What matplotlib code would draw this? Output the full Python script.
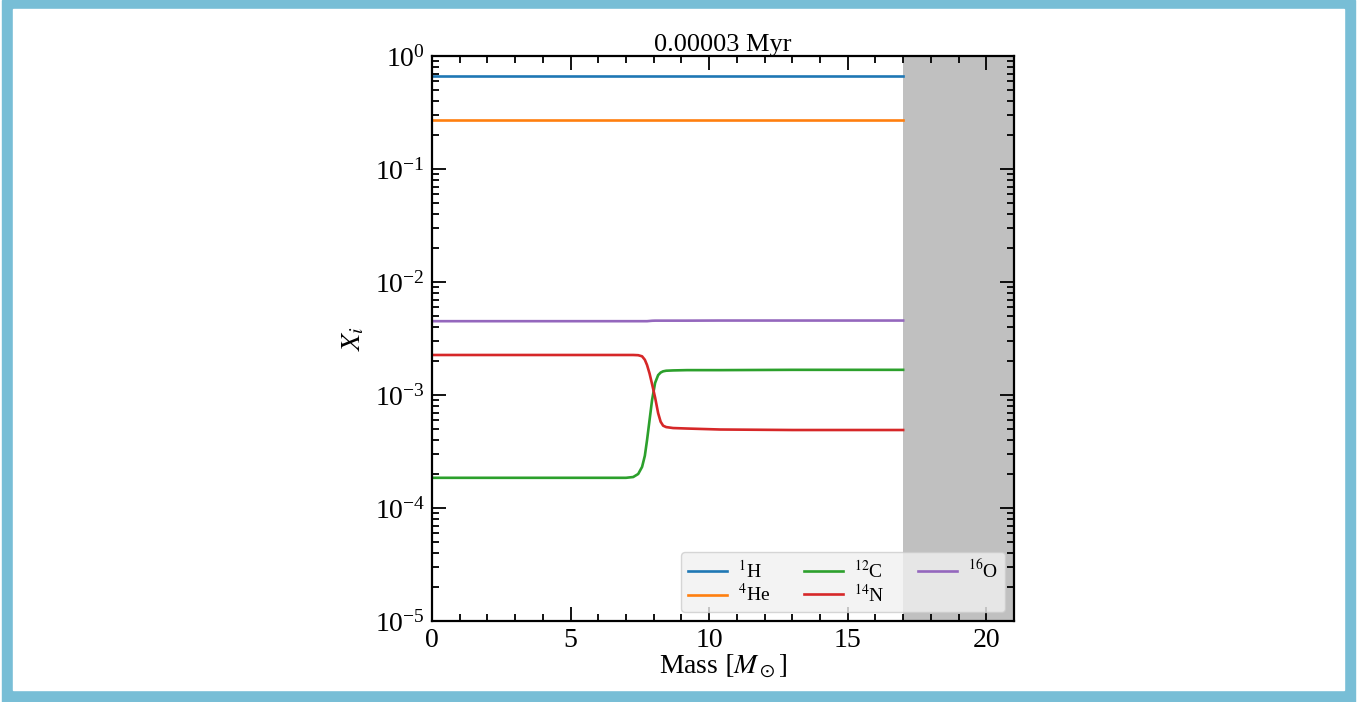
import matplotlib
matplotlib.use("Agg")
import matplotlib.pyplot as plt
from matplotlib.patches import Rectangle
from matplotlib.ticker import MultipleLocator, LogLocator, NullFormatter

# mass coordinate [Msun] and mass fractions
mass = [0, 4, 7.0, 7.26, 7.44, 7.58, 7.68, 7.76, 7.85, 7.94, 8.05, 8.16,
        8.25, 8.34, 8.45, 8.7, 9.2, 10.4, 13, 17]
x_h1 = [0.665] * len(mass)
x_he4 = [0.272] * len(mass)
x_c12 = [1.85e-4, 1.85e-4, 1.85e-4, 1.88e-4, 2.0e-4, 2.31e-4, 2.9e-4, 4.0e-4,
         6.0e-4, 9.0e-4, 1.28e-3, 1.5e-3, 1.58e-3, 1.62e-3, 1.64e-3, 1.65e-3,
         1.66e-3, 1.66e-3, 1.67e-3, 1.67e-3]
x_n14 = [2.26e-3, 2.26e-3, 2.26e-3, 2.26e-3, 2.25e-3, 2.2e-3, 2.05e-3, 1.84e-3,
         1.55e-3, 1.25e-3, 9.5e-4, 6.9e-4, 5.8e-4, 5.35e-4, 5.2e-4, 5.1e-4,
         5.05e-4, 4.95e-4, 4.9e-4, 4.9e-4]
x_o16 = [4.5e-3, 4.5e-3, 4.5e-3, 4.5e-3, 4.5e-3, 4.5e-3, 4.5e-3, 4.5e-3,
         4.52e-3, 4.54e-3, 4.55e-3, 4.55e-3, 4.55e-3, 4.55e-3, 4.55e-3, 4.55e-3,
         4.55e-3, 4.56e-3, 4.56e-3, 4.56e-3]
species = [("$^{1}$H", x_h1, "#1f77b4"), ("$^{4}$He", x_he4, "#ff7f0e"),
           ("$^{12}$C", x_c12, "#2ca02c"), ("$^{14}$N", x_n14, "#d62728"),
           ("$^{16}$O", x_o16, "#9467bd")]
envelope_start, m_total = 17, 21
title = "0.00003 Myr"

plt.rcParams["font.family"] = ["Liberation Serif", "DejaVu Serif"]
plt.rcParams["mathtext.fontset"] = "stix"

W, H = 1370, 702
fig = plt.figure(figsize=(W / 100, H / 100), dpi=100)
fig.patches.append(Rectangle((2 / W, 0), 1353 / W, 1, transform=fig.transFigure,
                             color="#78bed6", zorder=-2))
fig.patches.append(Rectangle((13 / W, 12 / H), 1331 / W, 681 / H,
                             transform=fig.transFigure, color="white", zorder=-1))

ax = fig.add_axes([432 / W, 81 / H, 582 / W, 565 / H])
for lab, y, c in species:
    ax.plot(mass, y, color=c, lw=1.9, label=lab)
ax.axvspan(envelope_start, m_total, color="silver", lw=0, zorder=0)

ax.set_yscale("log")
ax.set_xlim(0, m_total)
ax.set_ylim(1e-5, 1)
ax.xaxis.set_major_locator(MultipleLocator(5))
ax.xaxis.set_minor_locator(MultipleLocator(1))
ax.yaxis.set_major_locator(LogLocator(base=10, numticks=10))
ax.yaxis.set_minor_locator(LogLocator(base=10, subs=range(2, 10), numticks=20))
ax.yaxis.set_minor_formatter(NullFormatter())
ax.tick_params(which="both", direction="in", top=True, right=True, labelsize=20, width=1.3)
ax.tick_params(which="major", length=10, pad=5)
ax.tick_params(which="minor", length=5)
for s in ax.spines.values():
    s.set_linewidth(1.6)

ax.set_xlabel(r"Mass $[M_\odot]$", fontsize=20, labelpad=0)
ax.set_ylabel(r"$X_i$", fontsize=20, labelpad=6)
ax.set_title(title, fontsize=19, pad=2)
ax.legend(loc="lower right", ncol=3, fontsize=14, facecolor="#f0f0f0",
          framealpha=0.8, handlelength=2.0, handletextpad=0.6, columnspacing=1.7,
          borderaxespad=0.45, labelspacing=0.1, borderpad=0.35)

fig.savefig("out.png", dpi=100)
